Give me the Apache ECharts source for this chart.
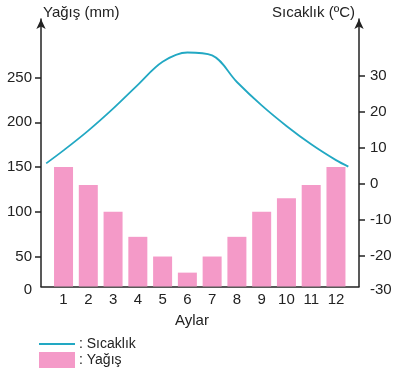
<!DOCTYPE html>
<html>
<head>
<meta charset="utf-8">
<script src="https://cdn.jsdelivr.net/npm/echarts@6/dist/echarts.min.js"></script>
<style>
	html, body { margin: 0; padding: 0; background: #fff; }
	#chart { width: 405px; height: 377px; }
</style>
</head>
<body>
<div id="chart"></div>
<script>
	//aylar ve değerler
	var months = [1, 2, 3, 4, 5, 6, 7, 8, 9, 10, 11, 12];
	var yagis = [150, 130, 100, 72, 50, 32, 50, 72, 100, 115, 130, 150];
	//sıcaklık eğrisi, uçlar dahil
	var sicaklikX = [0.3, 1, 2, 3, 4, 5, 6, 7, 8, 9, 10, 11, 12, 12.5];
	var sicaklik = [5.7, 9.3, 14.8, 20.9, 27.5, 33.9, 36.5, 35.7, 28.3, 21.8, 16.1, 11.0, 6.6, 4.8];
	//eksen etiketleri
	var yagisTicks = [50, 100, 150, 200, 250];
	var sicaklikTicks = [-20, -10, 0, 10, 20, 30];

	var yagisMin = 16.5, yagisMax = 315.4;
	var sicakMin = -28.5, sicakMax = 45.8;

	var txt = '#222';
	var font = 'Liberation Sans, Arial, sans-serif';

	var barData = [];
	for(var i = 0; i < months.length; i++) {
		barData.push([months[i], yagis[i]]);
	}
	var lineData = [];
	for(var j = 0; j < sicaklikX.length; j++) {
		lineData.push([sicaklikX[j], sicaklik[j]]);
	}

	var myChart = echarts.init(document.getElementById('chart'));
	var option = {
		animation: false,
		textStyle: { fontFamily: font },
		grid: { left: 41, right: 46, top: 19, bottom: 90.5 },
		legend: {
			orient: 'vertical',
			left: 34,
			top: 332,
			itemWidth: 36,
			itemHeight: 16,
			itemGap: 1,
			formatter: ': {name}',
			textStyle: { color: txt, fontSize: 14, fontFamily: font, padding: [0, 0, 0, -1] },
			data: [
				{ name: 'Sıcaklık', icon: 'path://M0,0 L36,0 L36,2 L0,2 Z', itemStyle: { color: '#22a8c3' } },
				{ name: 'Yağış', icon: 'rect' }
			]
		},
		xAxis: {
			type: 'value',
			min: 0.09,
			max: 12.93,
			name: 'Aylar',
			nameLocation: 'middle',
			nameGap: 27,
			nameTextStyle: { color: txt, fontSize: 15, padding: [0, 16, 0, 0] },
			splitLine: { show: false },
			axisTick: { show: false },
			axisLine: { onZero: false, lineStyle: { color: txt, width: 1.5 } },
			axisLabel: { customValues: months, color: txt, fontSize: 15, margin: 6 }
		},
		yAxis: [{
			type: 'value',
			min: yagisMin,
			max: yagisMax,
			name: 'Yağış (mm)',
			nameLocation: 'end',
			nameGap: 6,
			nameTextStyle: { color: txt, fontSize: 15, align: 'left', verticalAlign: 'middle', padding: [0, 0, 0, 2] },
			splitLine: { show: false },
			axisLine: { show: true, onZero: false, symbol: ['none', 'arrow'], symbolSize: [7, 10], lineStyle: { color: txt, width: 1.5 } },
			axisTick: { show: true, customValues: yagisTicks, length: 6, lineStyle: { color: txt, width: 1.5 } },
			axisLabel: {
				customValues: [yagisMin].concat(yagisTicks),
				color: txt,
				fontSize: 15,
				margin: 9,
				formatter: function(v) {
					return v < 20 ? '{z|0}' : v;
				},
				rich: { z: { fontSize: 15, color: txt, padding: [7, 0, 0, 0] } }
			}
		}, {
			type: 'value',
			min: sicakMin,
			max: sicakMax,
			position: 'right',
			name: 'Sıcaklık (ºC)',
			nameLocation: 'end',
			nameGap: 6,
			nameTextStyle: { color: txt, fontSize: 15, align: 'right', verticalAlign: 'middle', padding: [0, 4, 0, 0] },
			splitLine: { show: false },
			axisLine: { show: true, onZero: false, symbol: ['none', 'arrow'], symbolSize: [7, 10], lineStyle: { color: txt, width: 1.5 } },
			axisTick: { show: true, customValues: sicaklikTicks, length: 6, lineStyle: { color: txt, width: 1.5 } },
			axisLabel: {
				customValues: [sicakMin].concat(sicaklikTicks),
				color: txt,
				fontSize: 15,
				margin: 11,
				formatter: function(v) {
					return v < -25 ? '{z|-30}' : v;
				},
				rich: { z: { fontSize: 15, color: txt, padding: [7, 0, 0, 0] } }
			}
		}],
		series: [{
			name: 'Yağış',
			type: 'bar',
			yAxisIndex: 0,
			barWidth: 19,
			itemStyle: { color: '#f49ac8' },
			data: barData
		}, {
			name: 'Sıcaklık',
			type: 'line',
			yAxisIndex: 1,
			smooth: 0.35,
			symbol: 'none',
			lineStyle: { color: '#22a8c3', width: 1.8 },
			itemStyle: { color: '#22a8c3' },
			data: lineData
		}]
	};
	myChart.setOption(option);
</script>
</body>
</html>
